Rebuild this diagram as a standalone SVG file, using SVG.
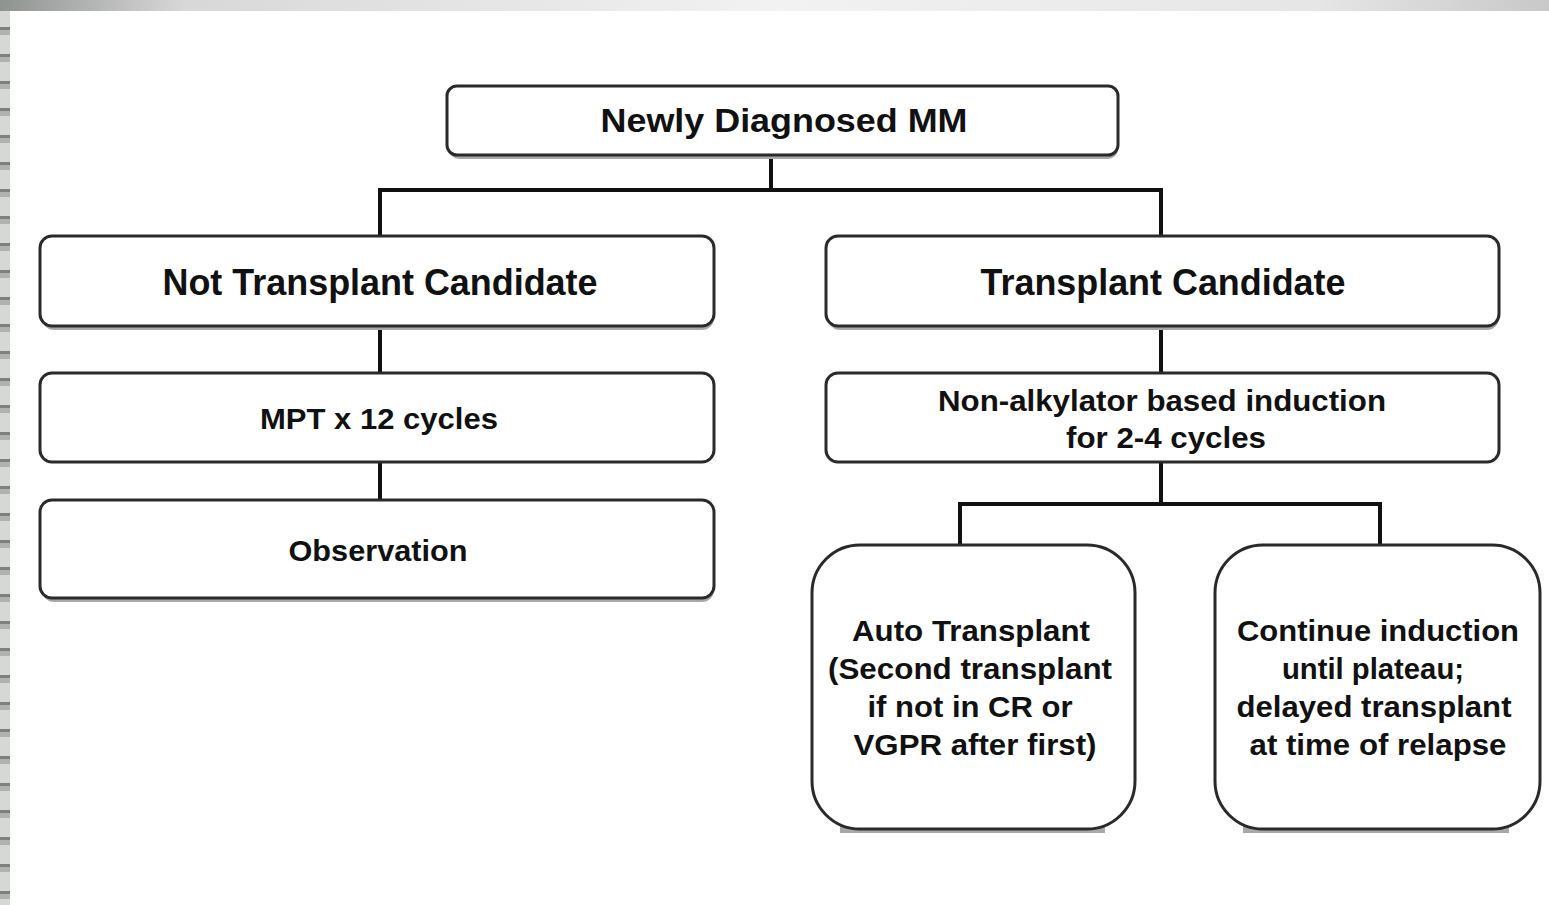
<svg xmlns="http://www.w3.org/2000/svg" width="1549" height="905" viewBox="0 0 1549 905">
<style>
.box{fill:#fff;stroke:#2a2a2a;stroke-width:3}
.shadow{fill:#a8a8a8}
.t{font-family:"Liberation Sans",Arial,sans-serif;font-weight:bold;fill:#111;text-anchor:middle}
.conn{fill:none;stroke:#111;stroke-width:4}
</style>
<defs>
<linearGradient id="topbar" x1="0" y1="0" x2="1" y2="0">
<stop offset="0" stop-color="#8f9390"/>
<stop offset="0.12" stop-color="#d8d8d8"/>
<stop offset="0.5" stop-color="#f2f2f2"/>
<stop offset="0.85" stop-color="#e6e6e6"/>
<stop offset="1" stop-color="#c8c8c8"/>
</linearGradient>
<pattern id="stripes" x="0" y="0" width="10" height="27" patternUnits="userSpaceOnUse">
<rect x="0" y="0" width="10" height="27" fill="#d6d8d6"/>
<rect x="0" y="0" width="10" height="3" fill="#7d807d"/>
<rect x="0" y="3" width="10" height="5" fill="#b0b2b0"/>
</pattern>
</defs>
<rect x="0" y="0" width="1549" height="905" fill="#fff"/>
<rect x="0" y="0" width="1549" height="11" fill="url(#topbar)"/>
<rect x="0" y="11" width="10" height="894" fill="url(#stripes)"/>

<g id="connectors">
<path class="conn" d="M771 155 V190 M380 190 H1161 M380 188 V236 M1161 188 V236"/>
<path class="conn" d="M380 326 V373 M380 462 V500"/>
<path class="conn" d="M1161 326 V373 M1161 462 V504 M960 504 H1380 M960 502 V545 M1380 502 V545"/>
</g>

<g id="n-newly">
<rect class="shadow" x="449" y="90" width="669" height="69" rx="10"/>
<rect class="box" x="447" y="86" width="671" height="69" rx="10"/>
<text class="t" x="784" y="132" font-size="33" textLength="367" lengthAdjust="spacingAndGlyphs">Newly Diagnosed MM</text>
</g>

<g id="n-not-transplant">
<rect class="shadow" x="42" y="240" width="672" height="90" rx="12"/>
<rect class="box" x="40" y="236" width="674" height="90" rx="12"/>
<text class="t" x="380" y="295" font-size="36" textLength="435" lengthAdjust="spacingAndGlyphs">Not Transplant Candidate</text>
</g>

<g id="n-transplant">
<rect class="shadow" x="828" y="240" width="671" height="90" rx="12"/>
<rect class="box" x="826" y="236" width="673" height="90" rx="12"/>
<text class="t" x="1163" y="295" font-size="36" textLength="365" lengthAdjust="spacingAndGlyphs">Transplant Candidate</text>
</g>

<g id="n-mpt">
<rect class="box" x="40" y="373" width="674" height="89" rx="12"/>
<text class="t" x="379" y="429" font-size="30" textLength="238" lengthAdjust="spacingAndGlyphs">MPT x 12 cycles</text>
</g>

<g id="n-induction">
<rect class="box" x="826" y="373" width="673" height="89" rx="12"/>
<text class="t" x="1162" y="411" font-size="30" textLength="448" lengthAdjust="spacingAndGlyphs">Non-alkylator based induction</text>
<text class="t" x="1166" y="448" font-size="30" textLength="200" lengthAdjust="spacingAndGlyphs">for 2-4 cycles</text>
</g>

<g id="n-observation">
<rect class="shadow" x="42" y="504" width="672" height="98" rx="12"/>
<rect class="box" x="40" y="500" width="674" height="98" rx="12"/>
<text class="t" x="378" y="561" font-size="30" textLength="179" lengthAdjust="spacingAndGlyphs">Observation</text>
</g>

<g id="n-auto">
<rect class="shadow" x="840" y="560" width="265" height="273"/>
<rect class="box" x="812" y="545" width="323" height="284" rx="48"/>
<text class="t" x="971" y="641" font-size="30" textLength="238" lengthAdjust="spacingAndGlyphs">Auto Transplant</text>
<text class="t" x="970" y="679" font-size="30" textLength="284" lengthAdjust="spacingAndGlyphs">(Second transplant</text>
<text class="t" x="970" y="717" font-size="30" textLength="205" lengthAdjust="spacingAndGlyphs">if not in CR or</text>
<text class="t" x="975" y="755" font-size="30" textLength="243" lengthAdjust="spacingAndGlyphs">VGPR after first)</text>
</g>

<g id="n-continue">
<rect class="shadow" x="1243" y="560" width="266" height="273"/>
<rect class="box" x="1215" y="545" width="325" height="284" rx="48"/>
<text class="t" x="1378" y="641" font-size="30" textLength="282" lengthAdjust="spacingAndGlyphs">Continue induction</text>
<text class="t" x="1373" y="679" font-size="30" textLength="182" lengthAdjust="spacingAndGlyphs">until plateau;</text>
<text class="t" x="1374" y="717" font-size="30" textLength="275" lengthAdjust="spacingAndGlyphs">delayed transplant</text>
<text class="t" x="1378" y="755" font-size="30" textLength="257" lengthAdjust="spacingAndGlyphs">at time of relapse</text>
</g>
</svg>
